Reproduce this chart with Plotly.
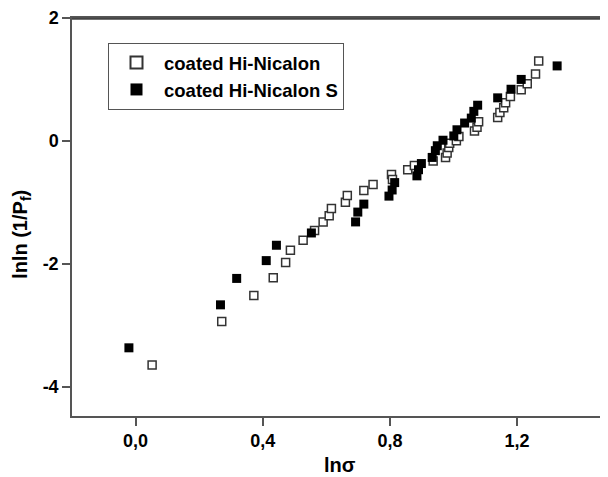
import plotly.graph_objects as go

# coated Hi-Nicalon (open squares)
hn_x = [0.052, 0.271, 0.372, 0.433, 0.472, 0.487, 0.527, 0.563, 0.590, 0.609,
        0.616, 0.660, 0.666, 0.718, 0.747, 0.805, 0.808, 0.856, 0.877, 0.936,
        0.975, 0.980, 0.985, 0.988, 1.009, 1.017, 1.066, 1.074, 1.079, 1.139,
        1.146, 1.158, 1.164, 1.179, 1.213, 1.232, 1.258, 1.268]
hn_y = [-3.65, -2.94, -2.52, -2.23, -1.98, -1.78, -1.62, -1.46, -1.32, -1.22,
        -1.10, -1.00, -0.89, -0.81, -0.71, -0.55, -0.63, -0.47, -0.40, -0.33,
        -0.27, -0.20, -0.11, -0.04, 0.00, 0.07, 0.16, 0.22, 0.31, 0.38,
        0.46, 0.54, 0.62, 0.72, 0.83, 0.93, 1.09, 1.30]

# coated Hi-Nicalon S (filled squares)
hns_x = [-0.021, 0.267, 0.318, 0.411, 0.443, 0.553, 0.692, 0.699, 0.718, 0.797,
         0.807, 0.815, 0.885, 0.890, 0.899, 0.933, 0.943, 0.949, 0.967, 1.001,
         1.011, 1.035, 1.056, 1.064, 1.076, 1.139, 1.181, 1.213, 1.326]
hns_y = [-3.37, -2.67, -2.24, -1.95, -1.70, -1.50, -1.32, -1.16, -1.03, -0.90,
         -0.80, -0.68, -0.57, -0.47, -0.37, -0.27, -0.16, -0.08, 0.01, 0.08,
         0.18, 0.29, 0.37, 0.48, 0.58, 0.70, 0.84, 1.00, 1.22]

x_tickvals = [0.0, 0.4, 0.8, 1.2]
x_ticktext = ["0,0", "0,4", "0,8", "1,2"]
y_tickvals = [-4, -2, 0, 2]
y_ticktext = ["-4", "-2", "0", "2"]

FONT = "Liberation Sans, Arial, sans-serif"
AX = "#555555"

fig = go.Figure()
fig.add_trace(go.Scatter(
    x=hn_x, y=hn_y, mode="markers", name="coated Hi-Nicalon",
    marker=dict(symbol="square", size=8, color="white",
                line=dict(color="#333333", width=1.5))))
fig.add_trace(go.Scatter(
    x=hns_x, y=hns_y, mode="markers", name="coated Hi-Nicalon S",
    marker=dict(symbol="square", size=9, color="black",
                line=dict(color="black", width=0))))

# page body has an 8px margin: figure is 600x469 so the plot lands where the reference has it
fig.update_layout(
    width=600, height=469,
    margin=dict(l=64, r=0, t=8, b=61),
    paper_bgcolor="white", plot_bgcolor="white",
    font=dict(family=FONT, size=18, color="black"),
    showlegend=True,
    legend=dict(x=(108 - 72) / 536, y=(416 - 41) / 400, xanchor="left", yanchor="top",
                bordercolor="#555555", borderwidth=1, bgcolor="white",
                font=dict(family=FONT, size=18.5, color="black", weight="bold"),
                tracegroupgap=0, itemsizing="constant", itemwidth=45),
    xaxis=dict(range=[-0.2, 1.486], tickvals=x_tickvals, ticktext=x_ticktext,
               showgrid=False, zeroline=False, showline=True, linecolor=AX,
               linewidth=1.5, mirror=True, ticks="outside", ticklen=8,
               tickcolor=AX, tickwidth=1.5, ticklabeloverflow="allow",
               tickfont=dict(family=FONT, size=18, weight="bold")),
    yaxis=dict(range=[-4.48, 2.0], tickvals=y_tickvals, ticktext=y_ticktext,
               showgrid=False, zeroline=False, showline=True, linecolor=AX,
               linewidth=1.5, mirror=False, ticks="outside", ticklen=8,
               tickcolor=AX, tickwidth=1.5, ticklabeloverflow="allow",
               tickfont=dict(family=FONT, size=18, weight="bold")),
    shapes=[dict(type="line", xref="paper", yref="paper", x0=0, x1=1, y0=0.998, y1=0.998,
                 layer="above", line=dict(color="#444444", width=2))],
    annotations=[
        dict(text="ln\u03c3", xref="paper", yref="paper", x=0.5, y=-(465 - 416) / 400,
             xanchor="center", yanchor="middle", showarrow=False,
             font=dict(family=FONT, size=20, weight="bold")),
        dict(text="lnln (1/P<sub>f</sub>)", xref="paper", yref="paper",
             x=(22 - 72) / 536, y=(416 - 234) / 400, textangle=-90,
             xanchor="center", yanchor="middle", showarrow=False,
             font=dict(family=FONT, size=20, weight="bold")),
    ],
)

fig.write_html("out.html")
